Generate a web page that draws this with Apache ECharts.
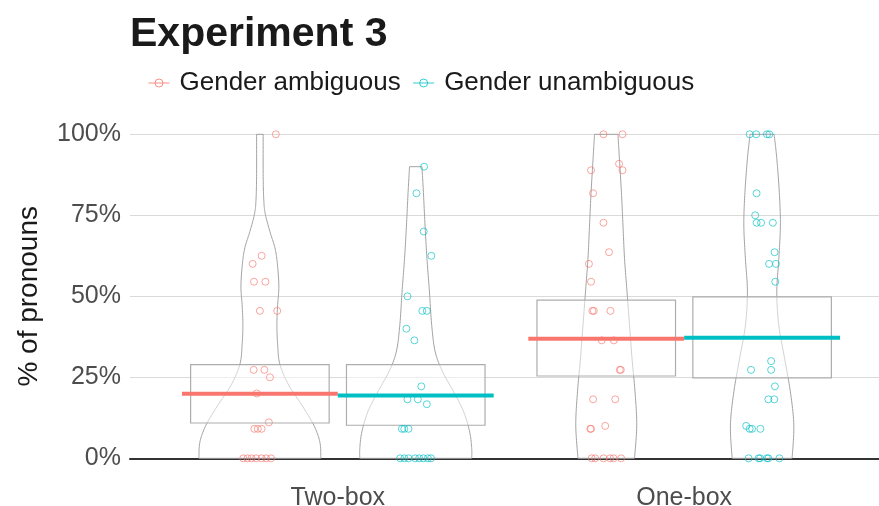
<!DOCTYPE html>
<html>
<head>
<meta charset="utf-8">
<script src="https://cdn.jsdelivr.net/npm/echarts@6/dist/echarts.min.js"></script>
<style>
html,body{margin:0;padding:0;background:#ffffff;}
#chart{width:879px;height:506px;}
</style>
</head>
<body>
<div id="chart"></div>
<script>
// ---------------- data ----------------
const categories = ['Two-box', 'One-box'];
const conditions = ['Gender ambiguous', 'Gender unambiguous'];
const yTicks = [0, 25, 50, 75, 100];

// crossbar (mean) and box (interval) per category
const meanAmbiguous = [19.9, 36.9];
const meanUnambiguous = [19.4, 37.2];
const boxLowAmbiguous = [10.9, 25.4];
const boxHighAmbiguous = [28.9, 48.8];
const boxLowUnambiguous = [10.2, 24.8];
const boxHighUnambiguous = [28.9, 49.8];

// individual observations: [percent, horizontal jitter in category units]
const pointsTwoBoxAmbiguous = [
  [100, 0.046], [62.5, 0.005], [60, -0.021], [54.5, -0.017], [54.5, 0.016],
  [45.5, 0.0], [45.5, 0.05], [27.3, -0.018], [27.3, 0.013], [25, 0.029],
  [20, -0.009], [11.1, 0.026], [9.1, -0.016], [9.1, -0.006], [9.1, 0.005],
  [0, -0.048], [0, -0.036], [0, -0.024], [0, -0.011], [0, 0.005], [0, 0.018], [0, 0.032]
];
const pointsOneBoxAmbiguous = [
  [100, -0.008], [100, 0.047], [90.9, 0.037], [88.9, -0.044], [88.9, 0.047],
  [81.8, -0.038], [72.7, -0.008], [63.6, 0.008], [60, -0.05], [54.5, -0.044],
  [45.5, -0.040], [45.5, -0.036], [45.5, 0.012], [36.4, -0.013], [36.4, 0.022],
  [27.3, 0.039], [27.3, 0.042], [18.2, -0.038], [18.2, 0.026], [10, -0.003],
  [9.1, -0.046], [9.1, -0.044],
  [0, -0.042], [0, -0.032], [0, -0.008], [0, 0.011], [0, 0.021], [0, 0.043]
];
const pointsTwoBoxUnambiguous = [
  [90, 0.024], [81.8, 0.002], [70, 0.023], [62.5, 0.045], [50, -0.024],
  [45.5, 0.019], [45.5, 0.032], [40, -0.027], [36.4, -0.004], [22.2, 0.016],
  [18.2, -0.024], [18.2, 0.006], [16.7, 0.032], [9.1, -0.040], [9.1, -0.033], [9.1, -0.021],
  [0, -0.045], [0, -0.033], [0, -0.021], [0, -0.002], [0, 0.010], [0, 0.022], [0, 0.035], [0, 0.044]
];
const pointsOneBoxUnambiguous = [
  [100, -0.036], [100, -0.017], [100, 0.014], [100, 0.021], [81.8, -0.016],
  [75, -0.020], [72.7, -0.016], [72.7, -0.003], [72.7, 0.031], [63.6, 0.036],
  [60, 0.020], [60, 0.040], [54.5, 0.038], [30, 0.026], [27.3, -0.032], [27.3, 0.026],
  [22.2, 0.037], [18.2, 0.018], [18.2, 0.035], [10, -0.046],
  [9.1, -0.036], [9.1, -0.029], [9.1, -0.005],
  [0, -0.039], [0, -0.010], [0, -0.006], [0, 0.014], [0, 0.018], [0, 0.050]
];

// violin density profiles: [percent, relative density]
const violinTwoBoxAmbiguous = [
  [0, 1.0], [5, 0.984], [10.2, 0.885], [16.4, 0.689], [22.5, 0.475], [29, 0.328],
  [35, 0.292], [41, 0.279], [47, 0.29], [53, 0.311], [60, 0.287], [65, 0.246],
  [70, 0.164], [75, 0.093], [79, 0.066], [87, 0.054], [100, 0.054]
];
const violinTwoBoxUnambiguous = [
  [0, 0.918], [3, 0.918], [8.1, 0.885], [14.3, 0.787], [20.5, 0.623], [26.6, 0.443],
  [32.8, 0.32], [41, 0.262], [51.3, 0.225], [61.6, 0.184], [72, 0.152], [82, 0.126], [90, 0.102]
];
const violinOneBoxAmbiguous = [
  [0, 0.464], [10.2, 0.5], [20.5, 0.472], [30.8, 0.423], [41, 0.382], [51.3, 0.341],
  [61.6, 0.3], [72, 0.274], [82, 0.249], [92.5, 0.216], [100, 0.192]
];
const violinOneBoxUnambiguous = [
  [0, 0.492], [10.2, 0.52], [20.5, 0.464], [30.8, 0.369], [41, 0.274], [51.3, 0.241],
  [61.6, 0.274], [72, 0.3], [82, 0.282], [92.5, 0.241], [100, 0.197]
];

// ---------------- layout / style constants ----------------
const COL_AMB = '#F8766D';
const COL_UNAMB = '#00BFC4';
const DODGE = 0.225;          // offset of each condition from category centre
const BOX_HALF = 0.2;         // half width of interval box
const MEAN_HALF = 0.225;      // half width of mean line
const VIOLIN_HALF_MAX = 0.176; // half width at density 1
const FONT = '"Liberation Sans", Arial, Helvetica, sans-serif';

const groups = [
  {cat: 0, side: -1, violin: violinTwoBoxAmbiguous, low: boxLowAmbiguous[0], high: boxHighAmbiguous[0]},
  {cat: 0, side: 1, violin: violinTwoBoxUnambiguous, low: boxLowUnambiguous[0], high: boxHighUnambiguous[0]},
  {cat: 1, side: -1, violin: violinOneBoxAmbiguous, low: boxLowAmbiguous[1], high: boxHighAmbiguous[1]},
  {cat: 1, side: 1, violin: violinOneBoxUnambiguous, low: boxLowUnambiguous[1], high: boxHighUnambiguous[1]}
];
function centerOf(g) { return g.cat + 1 + g.side * DODGE; }

function catmull(pts) {
  if (pts.length < 3) return pts;
  const out = [];
  const n = pts.length;
  for (let i = 0; i < n - 1; i++) {
    const p0 = pts[Math.max(0, i - 1)], p1 = pts[i], p2 = pts[i + 1], p3 = pts[Math.min(n - 1, i + 2)];
    const steps = 12;
    for (let s = 0; s < steps; s++) {
      const t = s / steps, t2 = t * t, t3 = t2 * t;
      const f = (a, b, c, d) => 0.5 * ((2 * b) + (-a + c) * t + (2 * a - 5 * b + 4 * c - d) * t2 + (-a + 3 * b - 3 * c + d) * t3);
      out.push([f(p0[0], p1[0], p2[0], p3[0]), f(p0[1], p1[1], p2[1], p3[1])]);
    }
  }
  out.push(pts[n - 1]);
  return out;
}

function pointsFor(list, cat, side) {
  return list.map(p => [cat + 1 + side * DODGE + p[1], p[0]]);
}

const chart = echarts.init(document.getElementById('chart'), null, {renderer: 'canvas'});

const series = [
  {
    type: 'custom', name: 'violin', silent: true, z: 1,
    data: groups.map((g, i) => [centerOf(g), i]),
    encode: {x: 0, y: 1},
    renderItem: function (params, api) {
      const g = groups[params.dataIndex];
      const cx = centerOf(g);
      const prof = g.violin.slice().sort((a, b) => a[0] - b[0]);
      const left = prof.map(p => api.coord([cx - p[1] * VIOLIN_HALF_MAX, p[0]]));
      const right = prof.map(p => api.coord([cx + p[1] * VIOLIN_HALF_MAX, p[0]]));
      const L = catmull(left), R = catmull(right).reverse();
      return {
        type: 'polygon',
        shape: {points: L.concat(R)},
        style: {fill: 'none', stroke: '#A3A3A3', lineWidth: 1}
      };
    }
  },
  {
    type: 'custom', name: 'box', silent: true, z: 2,
    data: groups.map((g, i) => [centerOf(g), i]),
    encode: {x: 0, y: 1},
    renderItem: function (params, api) {
      const g = groups[params.dataIndex];
      const cx = centerOf(g);
      const a = api.coord([cx - BOX_HALF, g.high]);
      const b = api.coord([cx + BOX_HALF, g.low]);
      return {
        type: 'rect',
        shape: {x: a[0], y: a[1], width: b[0] - a[0], height: b[1] - a[1]},
        style: {fill: 'rgba(255,255,255,0.5)', stroke: '#ADADAD', lineWidth: 1.2}
      };
    }
  }
];

// mean lines (line series give the legend its line+point key)
[[meanAmbiguous, -1, COL_AMB, conditions[0]], [meanUnambiguous, 1, COL_UNAMB, conditions[1]]].forEach(function (m) {
  m[0].forEach(function (val, ci) {
    const cx = ci + 1 + m[1] * DODGE;
    series.push({
      type: 'line', name: m[3], z: 5,
      symbol: 'circle', showSymbol: false, silent: true,
      color: m[2],
      itemStyle: {color: m[2], borderColor: m[2]},
      lineStyle: {color: m[2], width: 4},
      data: [[cx - MEAN_HALF, val], [cx + MEAN_HALF, val]]
    });
  });
});

series.push({
  type: 'scatter', name: conditions[0], z: 4, clip: false,
  symbol: 'circle', symbolSize: 7,
  itemStyle: {color: 'rgba(0,0,0,0)', borderColor: COL_AMB, borderWidth: 1, opacity: 0.65},
  data: pointsFor(pointsTwoBoxAmbiguous, 0, -1).concat(pointsFor(pointsOneBoxAmbiguous, 1, -1))
});
series.push({
  type: 'scatter', name: conditions[1], z: 4, clip: false,
  symbol: 'circle', symbolSize: 7,
  itemStyle: {color: 'rgba(0,0,0,0)', borderColor: COL_UNAMB, borderWidth: 1, opacity: 0.65},
  data: pointsFor(pointsTwoBoxUnambiguous, 0, 1).concat(pointsFor(pointsOneBoxUnambiguous, 1, 1))
});

const option = {
  backgroundColor: '#ffffff',
  animation: false,
  title: {
    text: 'Experiment 3', left: 130, top: 14, padding: 0,
    textStyle: {fontFamily: FONT, fontSize: 41, fontWeight: 'bold', color: '#1a1a1a'}
  },
  legend: {
    data: conditions, left: 148, top: 70, padding: 0,
    itemWidth: 21, itemHeight: 10, itemGap: 12,
    lineStyle: {width: 1, opacity: 0.8},
    itemStyle: {color: 'rgba(0,0,0,0)', borderColor: 'inherit', borderWidth: 1, opacity: 0.8},
    textStyle: {fontFamily: FONT, fontSize: 26, color: '#1a1a1a', padding: [0, 0, 0, 5]}
  },
  grid: {left: 130, right: -13, top: 134.3, bottom: 47.7, containLabel: false, outerBoundsMode: 'none'},
  xAxis: {
    type: 'value', min: 0.4, max: 2.6,
    axisLine: {show: true, onZero: true, lineStyle: {color: '#333333', width: 2}},
    axisTick: {show: false},
    splitLine: {show: false},
    axisLabel: {
      customValues: [1, 2],
      formatter: function (v) { return categories[Math.round(v) - 1] || ''; },
      fontFamily: FONT, fontSize: 25, color: '#4D4D4D', margin: 27
    }
  },
  yAxis: {
    type: 'value', min: yTicks[0], max: yTicks[yTicks.length - 1], interval: 25,
    name: '% of pronouns', nameLocation: 'middle', nameGap: 87,
    nameTextStyle: {fontFamily: FONT, fontSize: 28, color: '#1a1a1a'},
    axisLine: {show: false}, axisTick: {show: false},
    splitLine: {show: true, lineStyle: {color: '#DADADA', width: 1}},
    axisLabel: {formatter: '{value}%', fontFamily: FONT, fontSize: 25, color: '#4D4D4D', margin: 9}
  },
  series: series
};
chart.setOption(option);
</script>
</body>
</html>
